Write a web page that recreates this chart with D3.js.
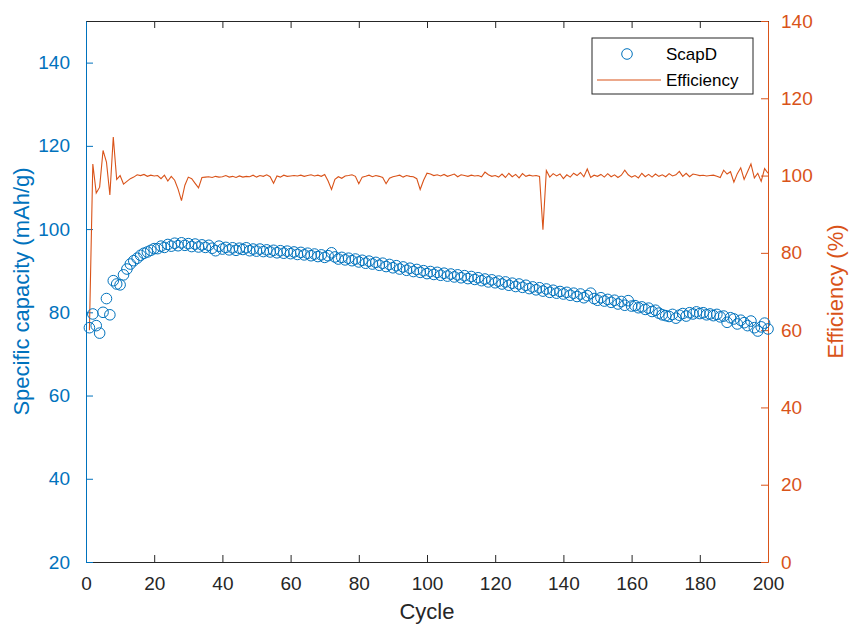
<!DOCTYPE html>
<html>
<head>
<meta charset="utf-8">
<script src="https://cdn.jsdelivr.net/npm/d3@7.9.0/dist/d3.min.js"></script>
<style>
    body { margin: 0; background: #fff; }
    svg { display: block; font-family: "Liberation Sans", Arial, sans-serif; }
</style>
</head>
<body>
<svg id="chart" width="850" height="626"></svg>
<script>
// specific discharge capacity per cycle (mAh/g), cycles 1..200
const capacity = [
    76.3, 79.6, 76.8, 75.0, 80.0, 83.3, 79.4, 87.6, 86.8, 86.6,
    89.0, 90.4, 91.6, 92.4, 93.0, 93.7, 94.2, 94.5, 94.9, 95.3,
    95.3, 95.9, 95.6, 96.3, 95.9, 96.6, 96.0, 96.7, 96.1, 96.5,
    95.8, 96.4, 95.7, 96.2, 95.6, 96.1, 95.4, 94.8, 95.9, 95.2,
    95.6, 95.0, 95.5, 94.9, 95.4, 95.1, 95.5, 94.8, 95.2, 94.7,
    95.2, 94.6, 95.0, 94.5, 94.9, 94.3, 94.8, 94.2, 94.7, 94.1,
    94.5, 93.9, 94.4, 93.8, 94.2, 93.6, 94.0, 93.4, 93.8, 93.2,
    93.6, 94.3, 93.3, 92.8, 93.2, 92.6, 93.0, 92.4, 92.8, 92.1,
    92.5, 91.8, 92.3, 91.6, 92.0, 91.3, 91.8, 91.0, 91.5, 90.7,
    91.2, 90.4, 90.9, 90.1, 90.6, 89.8, 90.3, 89.6, 90.0, 89.3,
    89.8, 89.1, 89.6, 88.9, 89.4, 88.7, 89.2, 88.5, 89.0, 88.3,
    88.8, 88.1, 88.6, 87.9, 88.3, 87.6, 88.0, 87.3, 87.8, 87.1,
    87.5, 86.8, 87.3, 86.5, 87.0, 86.2, 86.8, 86.0, 86.5, 85.7,
    86.1, 85.4, 85.9, 85.1, 85.6, 84.8, 85.3, 84.6, 85.0, 84.4,
    84.8, 84.1, 84.6, 83.8, 84.4, 83.5, 84.0, 84.6, 83.3, 82.9,
    83.5, 82.7, 83.1, 82.4, 82.9, 82.0, 82.6, 81.7, 82.8, 81.5,
    81.6, 81.1, 81.3, 80.7, 81.0, 80.2, 80.5, 79.8, 79.4, 79.2,
    79.0, 79.5, 78.6, 79.3, 79.7, 79.1, 79.9, 79.6, 80.1, 79.7,
    79.9, 79.4, 79.6, 79.2, 79.5, 78.9, 79.1, 77.6, 78.7, 78.4,
    77.2, 78.1, 77.5, 76.8, 77.9, 76.3, 75.5, 76.5, 77.4, 76.0
];

// coulombic efficiency per cycle (%)
const efficiency = [
    60.0, 103.0, 95.5, 97.0, 106.5, 103.5, 95.0, 110.0, 99.0, 100.0,
    97.8, 98.5, 99.2, 99.6, 100.2, 100.0, 100.3, 99.8, 100.1, 99.9,
    100.0, 99.2, 100.1, 98.6, 99.8, 98.8, 96.5, 93.5, 97.5, 99.6,
    99.2, 98.0, 96.8, 99.5, 99.6, 99.7, 99.5, 99.8, 99.6, 99.7,
    100.0, 99.6, 99.8, 99.5, 99.9, 99.6, 99.8, 99.7, 100.1, 99.6,
    100.0, 99.8, 100.2, 99.7, 98.0, 99.9, 99.6, 100.1, 99.8, 99.9,
    100.0, 99.9, 100.1, 99.8, 100.0, 100.2, 99.9, 100.1, 99.8, 100.3,
    98.6, 96.4, 99.0, 99.7, 99.3, 99.9, 100.0, 100.2, 99.8, 97.9,
    99.6, 99.8, 100.1, 99.7, 100.0, 99.8, 99.5, 97.9, 99.3, 99.7,
    99.9, 100.1, 99.6, 100.0, 99.8, 99.7, 99.2, 96.4, 98.8, 100.6,
    100.4, 100.0, 100.2, 99.9, 100.3, 99.8, 100.1, 100.4, 99.7, 100.2,
    100.0, 99.8, 100.1, 99.9, 100.0, 99.7, 100.9, 100.2, 99.8, 100.0,
    99.6, 100.4, 99.5, 100.6, 99.7, 100.3, 99.4, 100.5, 99.8, 100.1,
    99.9, 100.0, 99.8, 86.0, 101.3, 99.6, 100.5, 99.9, 100.4, 99.2,
    100.2, 99.6, 100.6, 100.0, 100.8, 99.7, 101.7, 99.5, 100.1, 99.8,
    100.3, 99.6, 100.5, 99.7, 100.2, 99.5, 100.1, 101.4, 100.2, 99.6,
    100.0, 99.4, 100.6, 99.7, 100.3, 99.6, 100.4, 99.8, 100.2, 99.7,
    100.5, 99.9, 100.2, 101.1, 99.8, 100.6, 99.7, 100.4, 100.2, 100.0,
    100.1, 99.9, 100.0, 100.1, 99.8, 99.5, 101.4, 100.4, 101.0, 98.3,
    100.5, 102.0, 99.0, 101.0, 103.0, 99.4, 100.6, 98.5, 101.8, 100.6
];

const cycles = capacity.map((_, i) => i + 1);

const xTicks = [0, 20, 40, 60, 80, 100, 120, 140, 160, 180, 200];
const leftTicks = [20, 40, 60, 80, 100, 120, 140];
const rightTicks = [0, 20, 40, 60, 80, 100, 120, 140];
const seriesNames = ['ScapD', 'Efficiency'];

const blue = '#0072BD';
const orange = '#D95319';
const dark = '#262626';

const margin = { top: 21, right: 82, bottom: 64, left: 86 };
const width = 850 - margin.left - margin.right;
const height = 626 - margin.top - margin.bottom;

const svg = d3.select('#chart');
const g = svg.append('g').attr('transform', `translate(${margin.left},${margin.top})`);

const x = d3.scaleLinear().domain([0, 200]).range([0, width]);
const yLeft = d3.scaleLinear().domain([20, 150]).range([height, 0]);
const yRight = d3.scaleLinear().domain([0, 140]).range([height, 0]);

const tickLen = 7;

// bottom axis
const xAxis = g.append('g')
    .attr('transform', `translate(0,${height})`)
    .call(d3.axisBottom(x).tickValues(xTicks).tickSizeInner(-tickLen).tickSizeOuter(0).tickPadding(15));
xAxis.select('.domain').attr('stroke', dark);
xAxis.selectAll('line').attr('stroke', dark);
xAxis.selectAll('text').attr('fill', dark).attr('font-size', 19);

// top box line with ticks
const topAxis = g.append('g')
    .call(d3.axisTop(x).tickValues(xTicks).tickSizeInner(-tickLen).tickSizeOuter(0).tickFormat(''));
topAxis.select('.domain').attr('stroke', dark);
topAxis.selectAll('line').attr('stroke', dark);

// left axis
const leftAxis = g.append('g')
    .call(d3.axisLeft(yLeft).tickValues(leftTicks).tickSizeInner(-tickLen).tickSizeOuter(0).tickPadding(16));
leftAxis.select('.domain').attr('stroke', blue);
leftAxis.selectAll('line').attr('stroke', blue);
leftAxis.selectAll('text').attr('fill', blue).attr('font-size', 19);

// right axis
const rightAxis = g.append('g')
    .attr('transform', `translate(${width},0)`)
    .call(d3.axisRight(yRight).tickValues(rightTicks).tickSizeInner(-tickLen).tickSizeOuter(0).tickPadding(13));
rightAxis.select('.domain').attr('stroke', orange);
rightAxis.selectAll('line').attr('stroke', orange);
rightAxis.selectAll('text').attr('fill', orange).attr('font-size', 19);

svg.selectAll('.domain').attr('stroke-width', 1);

// efficiency line
const line = d3.line()
    .x((d, i) => x(cycles[i]))
    .y(d => yRight(d));

g.append('path')
    .datum(efficiency)
    .attr('d', line)
    .attr('fill', 'none')
    .attr('stroke', orange)
    .attr('stroke-width', 1.1);

// capacity markers
g.append('g')
    .selectAll('circle')
    .data(capacity)
    .join('circle')
    .attr('cx', (d, i) => x(cycles[i]))
    .attr('cy', d => yLeft(d))
    .attr('r', 5.3)
    .attr('fill', 'none')
    .attr('stroke', blue)
    .attr('stroke-width', 1);

// axis labels
svg.append('text')
    .attr('x', margin.left + width / 2)
    .attr('y', 619)
    .attr('text-anchor', 'middle')
    .attr('font-size', 22)
    .attr('fill', dark)
    .text('Cycle');

svg.append('text')
    .attr('transform', `translate(29,${margin.top + height / 2}) rotate(-90)`)
    .attr('text-anchor', 'middle')
    .attr('font-size', 22)
    .attr('fill', blue)
    .text('Specific capacity (mAh/g)');

svg.append('text')
    .attr('transform', `translate(843,${margin.top + height / 2}) rotate(-90)`)
    .attr('text-anchor', 'middle')
    .attr('font-size', 22)
    .attr('fill', orange)
    .text('Efficiency (%)');

// legend
const legend = svg.append('g').attr('transform', 'translate(592,38)');
legend.append('rect')
    .attr('width', 161)
    .attr('height', 56)
    .attr('fill', '#fff')
    .attr('stroke', dark)
    .attr('stroke-width', 1);

legend.append('circle')
    .attr('cx', 35).attr('cy', 16).attr('r', 5.3)
    .attr('fill', 'none').attr('stroke', blue);
legend.append('line')
    .attr('x1', 5).attr('x2', 69).attr('y1', 42).attr('y2', 42)
    .attr('stroke', orange).attr('stroke-width', 1.1);

legend.selectAll('text.lbl')
    .data(seriesNames)
    .join('text')
    .attr('class', 'lbl')
    .attr('x', 74)
    .attr('y', (d, i) => 22 + i * 26)
    .attr('font-size', 17)
    .attr('fill', '#000')
    .text(d => d);
</script>
</body>
</html>
